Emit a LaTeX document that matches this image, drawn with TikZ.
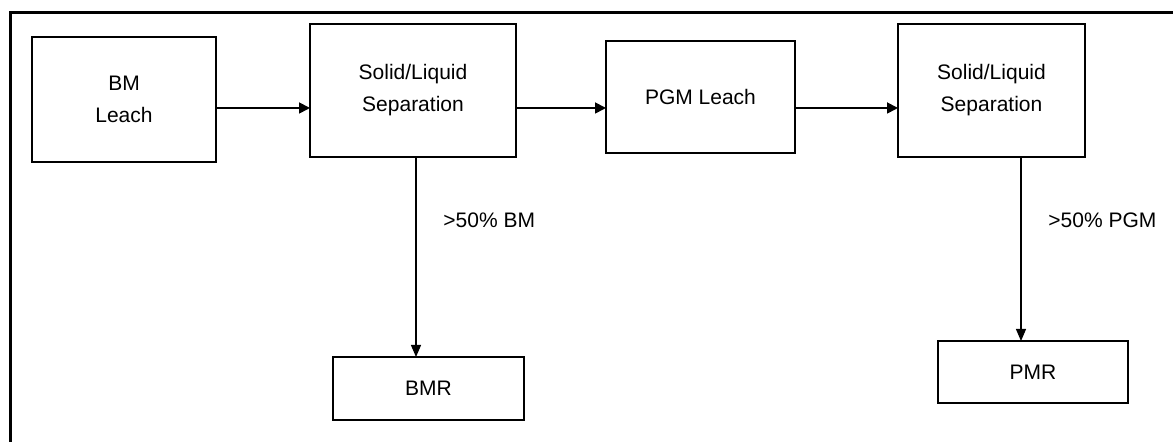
\documentclass[tikz,border=0pt]{standalone}
\usepackage{fontspec}
\setmainfont{Liberation Sans}
\usepackage{tikz}
\usetikzlibrary{arrows.meta,positioning}
\tikzset{
  ar/.style={-{Triangle[length=5.5pt,width=5.5pt]},line width=0.9pt},
  dr/.style={-{Triangle[length=6pt,width=5pt]},line width=0.6pt},
  bx/.style={draw,line width=0.7pt,inner sep=0pt,outer sep=0pt,align=center,font=\fontsize{10.5}{16}\selectfont},
  lb/.style={anchor=west,inner sep=0pt,font=\fontsize{10.5}{12}\selectfont}
}
\begin{document}
\begin{tikzpicture}[x=0.5pt,y=-0.5pt]
\useasboundingbox (0,0) rectangle (1173,442);
% frame
\draw[line width=1.8pt] (10.5,442) -- (10.5,12.5) -- (1173,12.5);
% process boxes
\node[bx,minimum width=92pt,minimum height=62.5pt] (bm) at (124,99.5) {BM\\Leach};
\node[bx,minimum width=103pt,minimum height=66.5pt] (sl1) at (413,90.5) {Solid/Liquid\\Separation};
\node[bx,minimum width=94.5pt,minimum height=56pt] (pgm) at (700.5,97) {PGM Leach};
\node[bx,minimum width=93.5pt,minimum height=66.5pt] (sl2) at (991.5,90.5) {Solid/Liquid\\Separation};
\node[bx,minimum width=95.5pt,minimum height=31.5pt] (bmr) at (428.5,388.5) {BMR};
\node[bx,minimum width=95pt,minimum height=31pt] (pmr) at (1033,372) {PMR};
\coordinate (flow) at (0,108);
\coordinate (drop1) at (416,0);
\coordinate (drop2) at (1021,0);
% flow
\draw[ar] (bm.east |- flow) -- (sl1.west |- flow);
\draw[ar] (sl1.east |- flow) -- (pgm.west |- flow);
\draw[ar] (pgm.east |- flow) -- (sl2.west |- flow);
\draw[dr] (sl1.south -| drop1) -- (bmr.north -| drop1);
\draw[dr] (sl2.south -| drop2) -- (pmr.north -| drop2);
\node[lb] (bmout) at (443,220) {>50\% BM};
\node[lb] (pgmout) at (1048,220) {>50\% PGM};
\end{tikzpicture}
\end{document}
